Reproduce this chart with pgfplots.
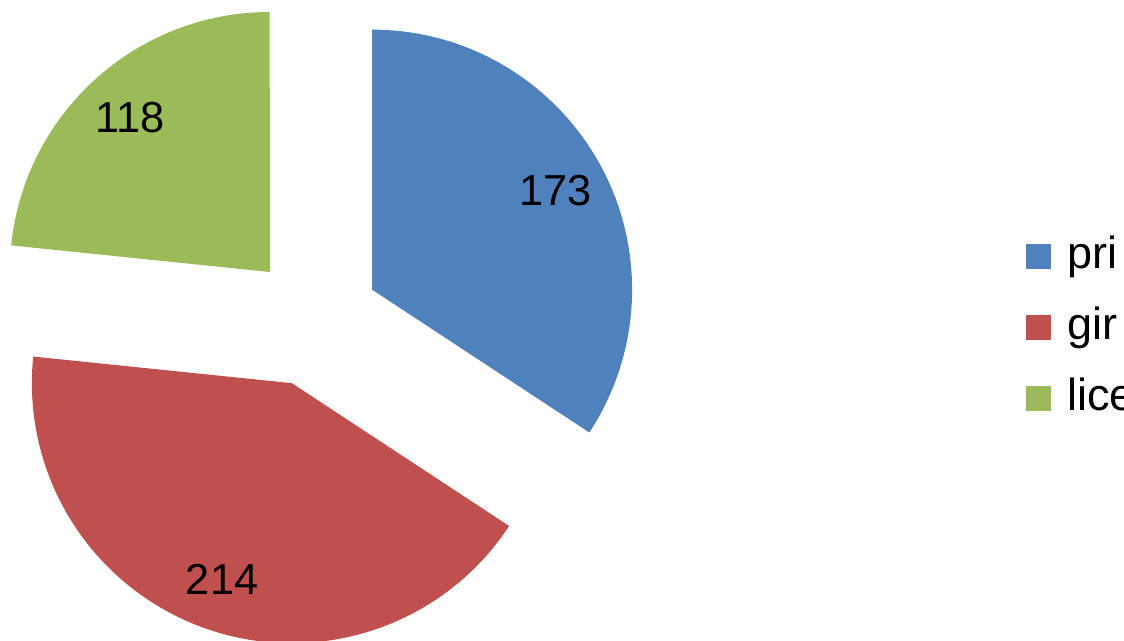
\documentclass[border=0pt]{standalone}
\usepackage{pgfplots}
\pgfplotsset{compat=1.18}
\usepackage{fontspec}
\setmainfont{Liberation Sans}
\definecolor{cA}{HTML}{4F81BD}
\definecolor{cB}{HTML}{C0504D}
\definecolor{cC}{HTML}{9BBB59}
\begin{document}
\begin{tikzpicture}
\def\vA{173}\def\vB{214}\def\vC{118}
\pgfmathsetmacro\T{\vA+\vB+\vC}
\pgfmathsetmacro\sA{90}
\pgfmathsetmacro\eA{\sA-\vA/\T*360}
\pgfmathsetmacro\eB{\eA-\vB/\T*360}
\pgfmathsetmacro\eC{\eB-\vC/\T*360}
\pgfmathsetmacro\mA{(\sA+\eA)/2}
\pgfmathsetmacro\mB{(\eA+\eB)/2}
\pgfmathsetmacro\mC{(\eB+\eC)/2}
\def\R{78pt}\def\D{19.8pt}\def\L{82.2pt}
\begin{axis}[x=0.3pt,y=0.3pt,xmin=0,xmax=1124,ymin=0,ymax=641,
  hide axis,clip=false,
  legend style={at={(axis cs:1025,405)},anchor=north west,draw=none,fill=none,
    font=\fontsize{13.5}{15}\selectfont,row sep=9.3pt,inner sep=0pt,
    nodes={inner sep=0pt,text height=9.5pt,text depth=2.5pt},
    /tikz/every odd column/.append style={column sep=5pt}},
  legend cell align=left,
  legend image code/.code={\fill[#1] (0pt,-3.75pt) rectangle (7.5pt,3.75pt);}]
\addlegendimage{fill=cA,draw=none}
\addlegendentry{pri}
\addlegendimage{fill=cB,draw=none}
\addlegendentry{gir}
\addlegendimage{fill=cC,draw=none}
\addlegendentry{lice}
\fill[cA] (axis cs:314,320) ++(\mA:\D) -- ++(\sA:\R) arc[start angle=\sA, end angle=\eA, radius=\R] -- cycle;
\fill[cB] (axis cs:314,320) ++(\mB:\D) -- ++(\eA:\R) arc[start angle=\eA, end angle=\eB, radius=\R] -- cycle;
\fill[cC] (axis cs:314,320) ++(\mC:\D) -- ++(\eB:\R) arc[start angle=\eB, end angle=\eC, radius=\R] -- cycle;
\path (axis cs:314,320) ++(\mA:\L) node[font=\fontsize{13}{15}\selectfont]{\vA};
\path (axis cs:314,320) ++(\mB:\L) node[font=\fontsize{13}{15}\selectfont]{\vB};
\path (axis cs:314,320) ++(\mC:\L) node[font=\fontsize{13}{15}\selectfont]{\vC};
\end{axis}
\pgfresetboundingbox
\path (current axis.south west) rectangle (current axis.north east);
\end{tikzpicture}
\end{document}
